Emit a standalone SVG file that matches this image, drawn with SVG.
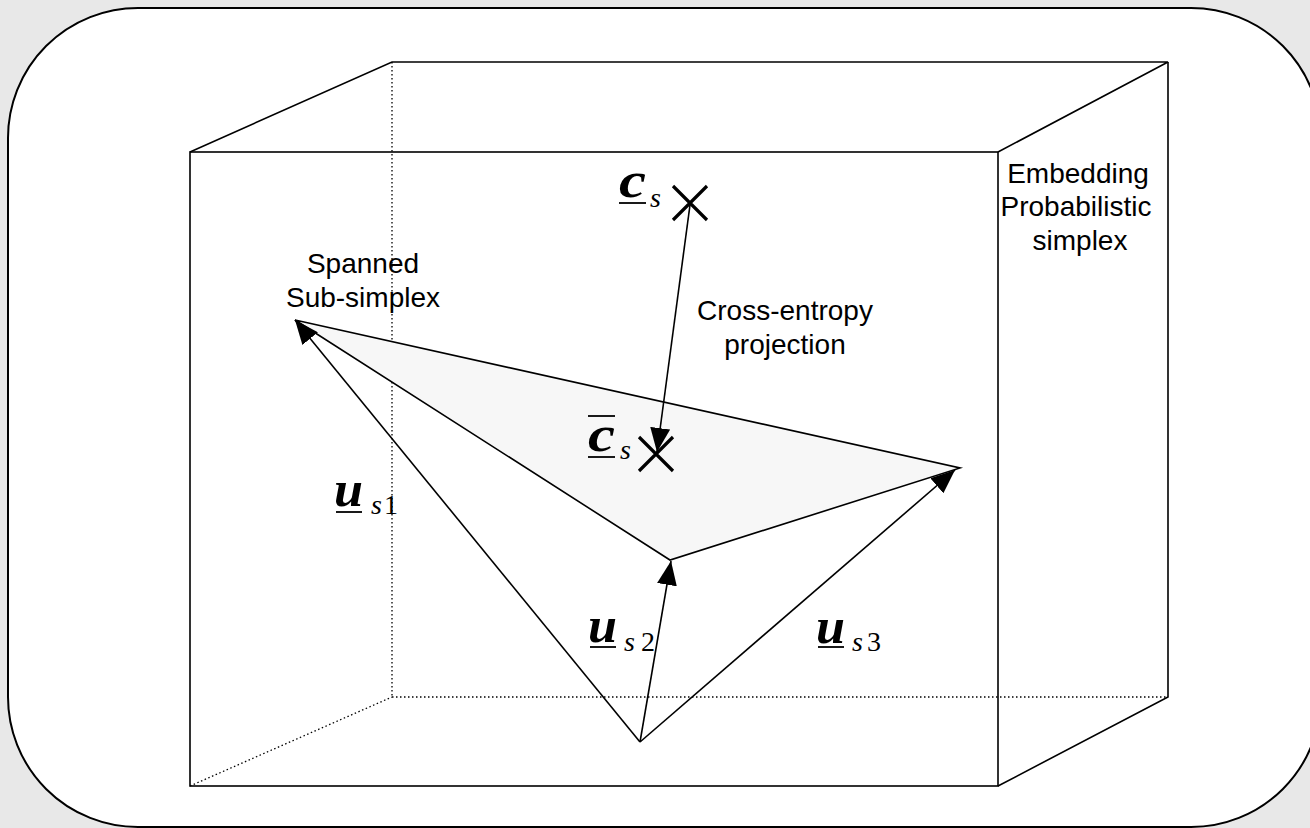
<svg xmlns="http://www.w3.org/2000/svg" width="1310" height="828" viewBox="0 0 1310 828">
<style>
.ln{stroke:#000;stroke-width:1.6;fill:none}
.dot{stroke:#000;stroke-width:1.3;fill:none;stroke-dasharray:1.5 2.5}
.lbl{font-family:"Liberation Sans",Arial,sans-serif;font-size:28px;fill:#000;text-anchor:middle}
.m{font-family:"Liberation Serif","Times New Roman",serif;fill:#000}
.mv{font-size:50px;font-weight:bold;font-style:italic}
.ms{font-size:28px;font-style:italic}
.mn{font-size:28px}
.ul{stroke:#000;stroke-width:1.8}
.x{stroke:#000;stroke-width:3.2;fill:none}
</style>
<defs>
<marker id="ah2" viewBox="0 0 24 20" refX="24" refY="10" markerWidth="24" markerHeight="20" markerUnits="userSpaceOnUse" orient="auto"><path d="M0,0 L24,10 L0,20 z" fill="#000"/></marker>
</defs>
<rect x="0" y="0" width="1310" height="828" fill="#e8e8e8"/>
<rect id="frame" x="8" y="8" width="1313" height="819" rx="130" ry="130" fill="#fff" stroke="#000" stroke-width="2"/>
<g id="box">
<line class="dot" x1="392" y1="62" x2="392" y2="697"/>
<line class="dot" x1="392" y1="697" x2="1168" y2="697"/>
<line class="dot" x1="190" y1="786" x2="392" y2="697"/>
<polyline class="ln" points="190,152 392,62 1168,62 998,152"/>
<polyline class="ln" points="1168,62 1168,697 998,786"/>
<rect class="ln" x="190" y="152" width="808" height="634" stroke-width="2"/>
</g>
<g id="subsimplex">
<polygon points="295,320 670,560 960,468" fill="#f7f7f7" stroke="#000" stroke-width="1.6"/>
</g>
<g id="connectors">
<line class="ln" x1="640" y1="742" x2="295" y2="320" marker-end="url(#ah2)"/>
<line class="ln" x1="640" y1="742" x2="671" y2="561" marker-end="url(#ah2)"/>
<line class="ln" x1="640" y1="742" x2="955" y2="470" marker-end="url(#ah2)"/>
<line class="ln" x1="690" y1="205" x2="657" y2="452" marker-end="url(#ah2)"/>
</g>
<g id="cs">
<path class="x" d="M673,186 L707,220 M707,186 L673,220"/>
<text class="m mv" x="619" y="197" textLength="27" lengthAdjust="spacingAndGlyphs">c</text>
<line class="ul" x1="619" y1="203" x2="646" y2="203"/>
<text class="m ms" x="650" y="207">s</text>
</g>
<g id="csbar">
<path class="x" d="M639,437 L673,471 M673,437 L639,471"/>
<line class="ul" x1="588" y1="416" x2="615" y2="416"/>
<text class="m mv" x="588" y="451" textLength="27" lengthAdjust="spacingAndGlyphs">c</text>
<line class="ul" x1="588" y1="457" x2="615" y2="457"/>
<text class="m ms" x="620" y="459">s</text>
</g>
<g id="us1">
<text class="m mv" x="334" y="506" textLength="29" lengthAdjust="spacingAndGlyphs">u</text>
<line class="ul" x1="336" y1="512" x2="362" y2="512"/>
<text class="m ms" x="371" y="514">s</text><text class="m mn" x="384" y="514">1</text>
</g>
<g id="us2">
<text class="m mv" x="588" y="642" textLength="29" lengthAdjust="spacingAndGlyphs">u</text>
<line class="ul" x1="590" y1="647" x2="616" y2="647"/>
<text class="m ms" x="624" y="651">s</text><text class="m mn" x="641" y="651">2</text>
</g>
<g id="us3">
<text class="m mv" x="816" y="643" textLength="29" lengthAdjust="spacingAndGlyphs">u</text>
<line class="ul" x1="818" y1="647" x2="844" y2="647"/>
<text class="m ms" x="852" y="651">s</text><text class="m mn" x="867" y="651">3</text>
</g>
<g id="labels">
<text class="lbl" x="363" y="273">Spanned</text>
<text class="lbl" x="363" y="307">Sub-simplex</text>
<text class="lbl" x="785" y="320">Cross-entropy</text>
<text class="lbl" x="785" y="354">projection</text>
<text class="lbl" x="1078" y="183">Embedding</text>
<text class="lbl" x="1076" y="216">Probabilistic</text>
<text class="lbl" x="1080" y="250">simplex</text>
</g>
</svg>
